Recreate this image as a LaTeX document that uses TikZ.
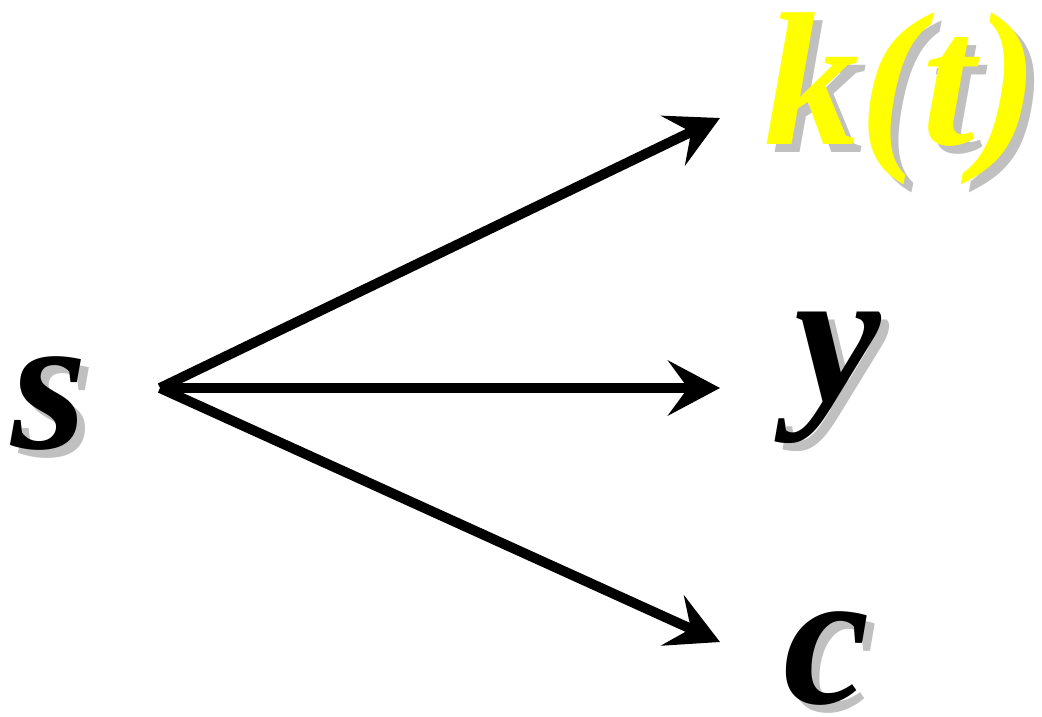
\documentclass[tikz,border=0pt]{standalone}
\usepackage{fontspec}
\newfontfamily\lblfont{Liberation Serif}[UprightFont={* Bold Italic}]
\usetikzlibrary{arrows.meta}
\definecolor{shadowgray}{HTML}{C0C0C0}
\definecolor{kyellow}{HTML}{FFFF00}
\tikzset{
  lbl/.style={font=\fontsize{195}{195}\selectfont\lblfont, inner sep=0pt, anchor=base west},
  shadowlbl/.style={lbl, text=shadowgray},
  arr/.style={line width=10pt, -{Stealth[length=52pt,width=55pt,inset=20pt]}},
}
\begin{document}
\begin{tikzpicture}[x=1pt,y=-1pt]
\useasboundingbox (0,0) rectangle (1042,716);
% shadows
\node[shadowlbl] (sS) at (19,456) {s};
\node[shadowlbl] (yS) at (802,409) {y};
\node[shadowlbl] (cS) at (791,711) {c};
\node[shadowlbl, font=\fontsize{190}{190}\selectfont\lblfont] (kS) at (772,152) {k(t)};
% labels
\node[lbl] (s) at (11,448) {s};
\node[lbl] (y) at (794,401) {y};
\node[lbl] (c) at (783,703) {c};
\node[lbl, text=kyellow, font=\fontsize{190}{190}\selectfont\lblfont] (k) at (764,144) {k(t)};
% arrows
\coordinate (o) at (160,388);
\coordinate (ek) at (720,118);
\coordinate (ey) at (720,388);
\coordinate (ec) at (720,642);
\draw[arr] (o) -- (ek);
\draw[arr] (o) -- (ey);
\draw[arr] (o) -- (ec);
\end{tikzpicture}
\end{document}
